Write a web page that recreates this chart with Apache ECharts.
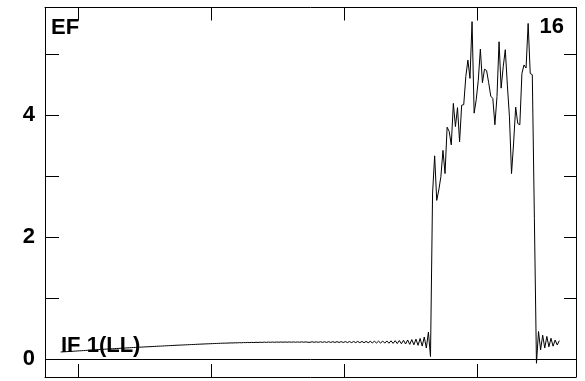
<!DOCTYPE html>
<html>
<head>
<meta charset="utf-8">
<script src="https://cdn.jsdelivr.net/npm/echarts@6/dist/echarts.min.js"></script>
<style>
html,body{margin:0;padding:0;background:#fff;}
#chart{width:585px;height:381px;}
</style>
</head>
<body>
<div id="chart"></div>
<script>
// ---- data ----
const X_START = 0.87002;     // x of first sample (axis units, tick spacing = 1)
const X_STEP = 0.015609;     // uniform sample spacing
const X_TICKS = [1, 2, 3, 4];
const Y_TICKS = [0, 1, 2, 3, 4, 5];
const Y_LABELS = [0, 2, 4];
const X_RANGE = [0.7521, 4.7416];
const Y_RANGE = [-0.295, 5.762];
const TEXT_TOP_LEFT = "EF";
const TEXT_TOP_RIGHT = "16";
const TEXT_BOTTOM_LEFT = "IF 1(LL)";

const efValues = [
  0.115,0.117,0.119,0.121,0.123, 0.125,0.127,0.129,0.132,0.134,
  0.136,0.138,0.140,0.143,0.145, 0.147,0.149,0.151,0.154,0.156,
  0.158,0.160,0.162,0.164,0.166, 0.168,0.170,0.172,0.174,0.176,
  0.178,0.180,0.182,0.184,0.186, 0.188,0.190,0.192,0.194,0.195,
  0.197,0.199,0.201,0.202,0.204, 0.206,0.208,0.210,0.211,0.213,
  0.215,0.217,0.219,0.220,0.222, 0.224,0.226,0.227,0.229,0.230,
  0.232,0.234,0.235,0.237,0.238, 0.240,0.242,0.243,0.245,0.246,
  0.248,0.249,0.251,0.252,0.254, 0.255,0.256,0.258,0.259,0.260,
  0.261,0.262,0.264,0.263,0.266, 0.265,0.268,0.266,0.270,0.268,
  0.272,0.269,0.273,0.270,0.274, 0.271,0.275,0.272,0.276,0.273,
  0.277,0.274,0.278,0.274,0.278, 0.275,0.279,0.275,0.279,0.275,
  0.280,0.275,0.280,0.275,0.280, 0.275,0.281,0.275,0.281,0.274,
  0.274,0.282,0.274,0.282,0.273, 0.283,0.273,0.283,0.272,0.284,
  0.272,0.284,0.271,0.285,0.271, 0.285,0.270,0.286,0.270,0.286,
  0.269,0.287,0.268,0.288,0.268, 0.288,0.267,0.289,0.266,0.290,
  0.265,0.291,0.263,0.292,0.262, 0.294,0.260,0.296,0.258,0.298,
  0.256,0.300,0.253,0.303,0.250, 0.307,0.246,0.312,0.240,0.318,
  0.233,0.326,0.224,0.336,0.212, 0.360,0.180,0.440,0.040,
  2.72,3.33,2.60,2.77,2.99, 3.42,3.04,3.80,3.73,3.51,
  4.19,3.81,4.12,3.56,4.16, 4.17,4.63,4.90,4.60,5.53,
  4.03,4.25,4.57,5.08,4.53, 4.75,4.73,4.53,4.31,4.27,
  3.84,4.30,5.20,4.44,4.79, 5.07,4.49,3.97,3.04,3.54,
  4.13,3.86,3.84,4.68,4.82, 4.77,5.50,4.68,4.66,2.30,
  -0.07,0.45,0.15,0.39,0.18, 0.37,0.20,0.34,0.21,0.31,
  0.23,0.30
];

// ---- build series data ----
const seriesData = efValues.map((v, i) => [X_START + i * X_STEP, v]);

const chart = echarts.init(document.getElementById('chart'), null, {renderer: 'canvas'});
const FAMILY = '"Liberation Sans", Arial, Helvetica, sans-serif';
const FONT = 'bold 22px ' + FAMILY;

function xAxisDef(pos) {
  return {
    type: 'value', position: pos, min: X_RANGE[0], max: X_RANGE[1],
    axisLine: {show: true, onZero: false, lineStyle: {color: '#000', width: 1}},
    axisTick: {show: true, inside: true, length: 13, customValues: X_TICKS, lineStyle: {color: '#000', width: 1}},
    axisLabel: {show: false, customValues: X_TICKS},
    splitLine: {show: false}
  };
}

const option = {
  animation: false,
  backgroundColor: '#fff',
  grid: {left: 45, right: 9, top: 7.5, bottom: 4, containLabel: false, outerBoundsMode: 'none'},
  xAxis: [xAxisDef('bottom'), xAxisDef('top')],
  yAxis: [
    {
      type: 'value', position: 'left', min: Y_RANGE[0], max: Y_RANGE[1],
      axisLine: {show: true, onZero: false, lineStyle: {color: '#000', width: 1}},
      axisTick: {show: true, inside: true, length: 14, customValues: Y_TICKS, lineStyle: {color: '#000', width: 1}},
      axisLabel: {show: true, customValues: Y_LABELS, margin: 10, color: '#000', fontWeight: 'bold', fontSize: 22,
        fontFamily: FAMILY},
      splitLine: {show: false}
    },
    {
      type: 'value', position: 'right', min: Y_RANGE[0], max: Y_RANGE[1],
      axisLine: {show: true, onZero: false, lineStyle: {color: '#000', width: 1}},
      axisTick: {show: true, inside: true, length: 12, customValues: Y_TICKS, lineStyle: {color: '#000', width: 1}},
      axisLabel: {show: false, customValues: Y_TICKS},
      splitLine: {show: false}
    }
  ],
  graphic: [
    {type: 'text', z: 1, left: 51, top: 17, style: {text: TEXT_TOP_LEFT, font: FONT, fill: '#000'}},
    {type: 'text', z: 1, right: 21, top: 16, style: {text: TEXT_TOP_RIGHT, font: FONT, fill: '#000'}},
    {type: 'text', z: 1, left: 61, top: 335, style: {text: TEXT_BOTTOM_LEFT, font: FONT, fill: '#000'}}
  ],
  series: [{
    type: 'line',
    xAxisIndex: 0, yAxisIndex: 0,
    data: seriesData,
    showSymbol: false,
    symbol: 'none',
    z: 5,
    lineStyle: {color: '#000', width: 1},
    markLine: {
      silent: true, symbol: ['none', 'none'], animation: false,
      label: {show: false},
      lineStyle: {color: '#000', width: 1, type: 'solid'},
      data: [{yAxis: 0}]
    }
  }]
};
chart.setOption(option);
</script>
</body>
</html>
